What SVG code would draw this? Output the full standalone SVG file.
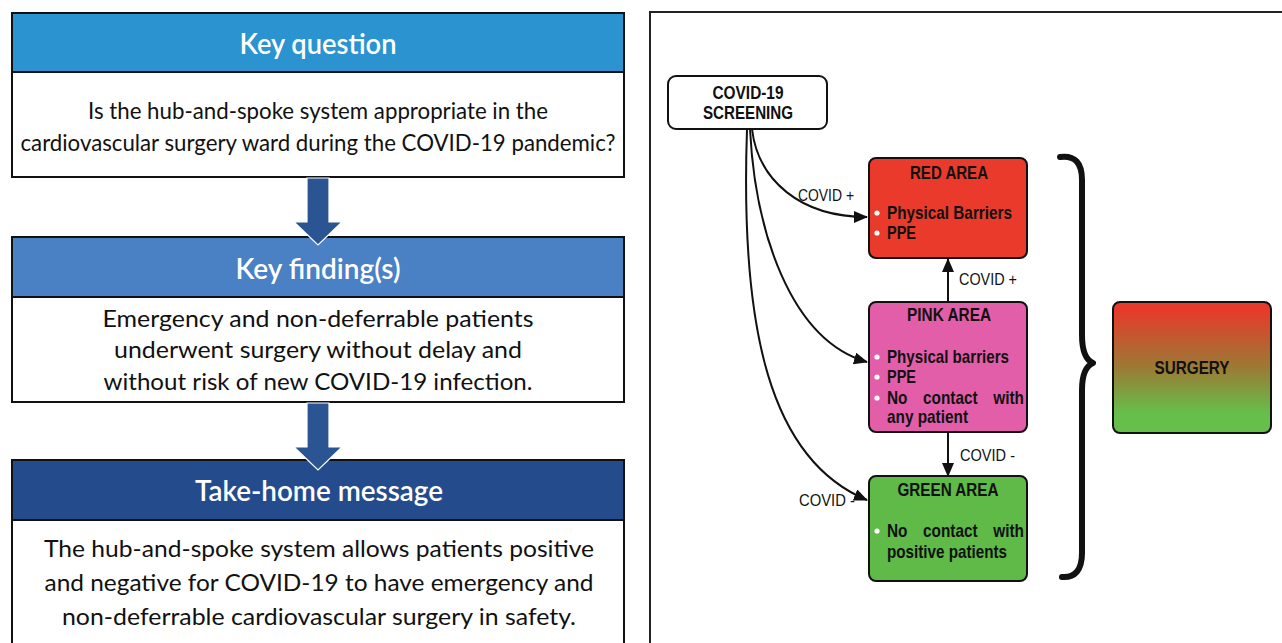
<svg xmlns="http://www.w3.org/2000/svg" width="1282" height="643" viewBox="0 0 1282 643">
<defs>
<style>
.hdr{font-family:Lato,"Open Sans","Liberation Sans",sans-serif;font-size:28px;font-weight:600;fill:#fff;text-anchor:middle}
.body{font-family:Lato,"Open Sans","Liberation Sans",sans-serif;font-size:24px;fill:#111;text-anchor:middle}
.box{stroke:#111;stroke-width:2}
.node{stroke:#111;stroke-width:2}
.t{font-family:"Liberation Sans",Arial,sans-serif;font-weight:bold;font-size:19px;fill:#111}
.c{text-anchor:middle}
.lbl{font-family:"Liberation Sans",Arial,sans-serif;font-size:17px;fill:#111}
.conn{fill:none;stroke:#111;stroke-width:2}
.bul{fill:#fff}
.barrow{fill:#2b5592;stroke:#fff;stroke-width:1.2}
</style>
<marker id="ah" markerWidth="14" markerHeight="12" refX="13" refY="6" orient="auto" markerUnits="userSpaceOnUse">
<path d="M0,0 L14,6 L0,12 Z" fill="#111"/>
</marker>
<linearGradient id="surg" x1="0" y1="0" x2="0" y2="1">
<stop offset="0.05" stop-color="#e8392a"/>
<stop offset="0.5" stop-color="#9b7a35"/>
<stop offset="0.85" stop-color="#66bf4a"/>
</linearGradient>
</defs>
<rect width="1282" height="643" fill="#fff"/>

<!-- Left panel -->
<g id="key-question">
<rect class="box" x="12" y="13" width="612" height="59" fill="#2a93d0"/>
<rect class="box" x="12" y="72" width="612" height="105" fill="#fff"/>
<text class="hdr" x="318" y="54" textLength="157" lengthAdjust="spacingAndGlyphs">Key question</text>
<text class="body" x="318" y="119" textLength="460" lengthAdjust="spacingAndGlyphs">Is the hub-and-spoke system appropriate in the</text>
<text class="body" x="318" y="151" textLength="595" lengthAdjust="spacingAndGlyphs">cardiovascular surgery ward during the COVID-19 pandemic?</text>
</g>
<g id="key-finding">
<rect class="box" x="12" y="237" width="612" height="60" fill="#4a80c4"/>
<rect class="box" x="12" y="297" width="612" height="105" fill="#fff"/>
<text class="hdr" x="318" y="279" textLength="165" lengthAdjust="spacingAndGlyphs">Key finding(s)</text>
<text class="body" x="318" y="327" textLength="431" lengthAdjust="spacingAndGlyphs">Emergency and non-deferrable patients</text>
<text class="body" x="318" y="358" textLength="408" lengthAdjust="spacingAndGlyphs">underwent surgery without delay and</text>
<text class="body" x="318" y="390" textLength="429" lengthAdjust="spacingAndGlyphs">without risk of new COVID-19 infection.</text>
</g>
<g id="take-home">
<rect class="box" x="12" y="460" width="612" height="60" fill="#244c8c"/>
<rect class="box" x="12" y="520" width="612" height="140" fill="#fff"/>
<text class="hdr" x="319" y="501" textLength="248" lengthAdjust="spacingAndGlyphs">Take-home message</text>
<text class="body" x="319" y="557" textLength="550" lengthAdjust="spacingAndGlyphs">The hub-and-spoke system allows patients positive</text>
<text class="body" x="319" y="591" textLength="549" lengthAdjust="spacingAndGlyphs">and negative for COVID-19 to have emergency and</text>
<text class="body" x="319" y="625" textLength="514" lengthAdjust="spacingAndGlyphs">non-deferrable cardiovascular surgery in safety.</text>
</g>
<g id="flow-arrows">
<path class="barrow" d="M307,178 L329,178 L329,222 L342,222 L318,245 L294,222 L307,222 Z"/>
<path class="barrow" d="M307,403 L329,403 L329,447 L342,447 L318,470 L294,447 L307,447 Z"/>
</g>

<!-- Right panel -->
<rect x="650" y="12" width="700" height="700" fill="none" stroke="#222" stroke-width="2"/>

<g id="connectors">
<path class="conn" d="M752,129 C758,180 800,217 867,217" marker-end="url(#ah)"/>
<path class="conn" d="M750,129 C755,230 790,340 867,362" marker-end="url(#ah)"/>
<path class="conn" d="M747,129 C740,330 770,460 867,500" marker-end="url(#ah)"/>
<path class="conn" d="M948,302 L948,259" marker-end="url(#ah)"/>
<path class="conn" d="M948,432 L948,476" marker-end="url(#ah)"/>
<text class="lbl" x="798" y="201" textLength="56" lengthAdjust="spacingAndGlyphs">COVID +</text>
<text class="lbl" x="959" y="285" textLength="58" lengthAdjust="spacingAndGlyphs">COVID +</text>
<text class="lbl" x="960" y="461" textLength="55" lengthAdjust="spacingAndGlyphs">COVID -</text>
<text class="lbl" x="799" y="506" textLength="56" lengthAdjust="spacingAndGlyphs">COVID -</text>
</g>

<g id="screening">
<rect class="node" x="668" y="76" width="159" height="53" rx="8" fill="#fff"/>
<text class="t c" x="748" y="99" textLength="71" lengthAdjust="spacingAndGlyphs">COVID-19</text>
<text class="t c" x="748" y="119" textLength="90" lengthAdjust="spacingAndGlyphs">SCREENING</text>
</g>

<g id="red-area">
<rect class="node" x="869" y="158" width="158" height="100" rx="7" fill="#ea3a2b"/>
<text class="t c" x="949" y="179" textLength="78" lengthAdjust="spacingAndGlyphs">RED AREA</text>
<circle class="bul" cx="877" cy="213" r="2.6"/>
<text class="t" x="887" y="219" textLength="125" lengthAdjust="spacingAndGlyphs">Physical Barriers</text>
<circle class="bul" cx="877" cy="233" r="2.6"/>
<text class="t" x="887" y="239" textLength="29" lengthAdjust="spacingAndGlyphs">PPE</text>
</g>

<g id="pink-area">
<rect class="node" x="869" y="302" width="158" height="130" rx="7" fill="#e35ea9"/>
<text class="t c" x="949" y="321" textLength="84" lengthAdjust="spacingAndGlyphs">PINK AREA</text>
<circle class="bul" cx="877" cy="357" r="2.6"/>
<text class="t" x="887" y="363" textLength="122" lengthAdjust="spacingAndGlyphs">Physical barriers</text>
<circle class="bul" cx="877" cy="377" r="2.6"/>
<text class="t" x="887" y="383" textLength="29" lengthAdjust="spacingAndGlyphs">PPE</text>
<circle class="bul" cx="877" cy="398" r="2.6"/>
<text class="t" x="887" y="404" textLength="137" lengthAdjust="spacingAndGlyphs" word-spacing="14">No contact with</text>
<text class="t" x="887" y="423" textLength="81" lengthAdjust="spacingAndGlyphs">any patient</text>
</g>

<g id="green-area">
<rect class="node" x="869" y="476" width="158" height="105" rx="7" fill="#5fba48"/>
<text class="t c" x="948" y="496" textLength="101" lengthAdjust="spacingAndGlyphs">GREEN AREA</text>
<circle class="bul" cx="877" cy="531" r="2.6"/>
<text class="t" x="887" y="537" textLength="137" lengthAdjust="spacingAndGlyphs" word-spacing="14">No contact with</text>
<text class="t" x="887" y="558" textLength="120" lengthAdjust="spacingAndGlyphs">positive patients</text>
</g>

<g id="brace">
<path d="M1060,157 C1075,155 1082,163 1082,180 L1082,335 C1082,352 1086,360 1093,363 C1086,366 1082,374 1082,390 L1082,553 C1082,570 1075,578 1062,577" fill="none" stroke="#111" stroke-width="6" stroke-linecap="round" stroke-linejoin="round"/>
</g>

<g id="surgery">
<rect class="node" x="1113" y="302" width="158" height="131" rx="7" fill="url(#surg)"/>
<text class="t c" x="1192" y="374" textLength="75" lengthAdjust="spacingAndGlyphs" fill="#2a2a2a">SURGERY</text>
</g>
</svg>
